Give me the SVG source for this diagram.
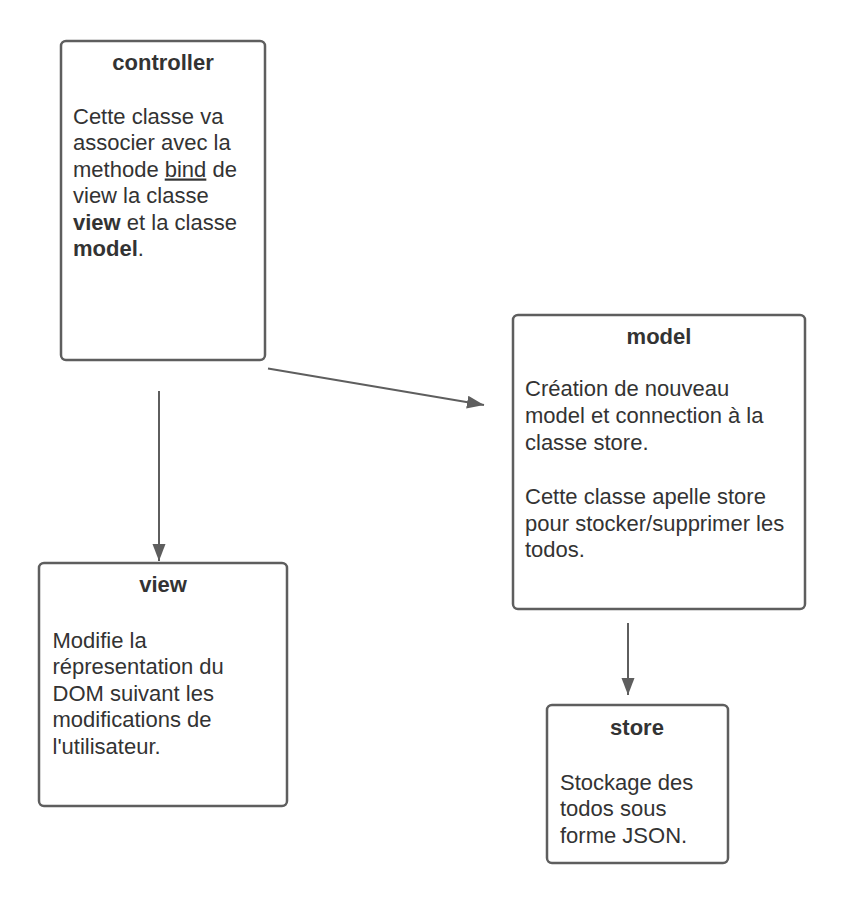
<svg xmlns="http://www.w3.org/2000/svg" width="847" height="903" viewBox="0 0 847 903">
<defs>
<style>
.box{fill:#ffffff;stroke:#5e5e5e;stroke-width:2.5}
.t{font-family:"Liberation Sans",Arial,sans-serif;font-size:22px;fill:#333333}
.h{font-weight:bold;text-anchor:middle}
.b{font-weight:bold}
.edge{stroke:#5e5e5e;stroke-width:2;fill:none}
</style>
<marker id="arr" markerWidth="18" markerHeight="14" refX="17" refY="6.5" orient="auto" markerUnits="userSpaceOnUse">
<path d="M0,0 L17,6.5 L0,13 Z" fill="#5e5e5e"/>
</marker>
</defs>
<rect width="847" height="903" fill="#ffffff"/>
<g id="controller">
<rect class="box" x="61" y="41" width="204" height="319" rx="5"/>
<text class="t h" x="163" y="70">controller</text>
<text class="t" x="73" y="123.5">Cette classe va</text>
<text class="t" x="73" y="150">associer avec la</text>
<text class="t" x="73" y="176.5">methode <tspan text-decoration="underline">bind</tspan> de</text>
<text class="t" x="73" y="203">view la classe</text>
<text class="t" x="73" y="229.5"><tspan class="b">view</tspan> et la classe</text>
<text class="t" x="73" y="256"><tspan class="b">model</tspan>.</text>
</g>
<g id="model">
<rect class="box" x="513" y="315" width="292" height="294" rx="5"/>
<text class="t h" x="659" y="344">model</text>
<text class="t" x="525" y="396">Création de nouveau</text>
<text class="t" x="525" y="423">model et connection à la</text>
<text class="t" x="525" y="450">classe store.</text>
<text class="t" x="525" y="504">Cette classe apelle store</text>
<text class="t" x="525" y="530.5">pour stocker/supprimer les</text>
<text class="t" x="525" y="557">todos.</text>
</g>
<g id="view">
<rect class="box" x="39" y="563" width="248" height="243" rx="5"/>
<text class="t h" x="163" y="592">view</text>
<text class="t" x="52.5" y="647.5">Modifie la</text>
<text class="t" x="52.5" y="674">répresentation du</text>
<text class="t" x="52.5" y="700.5">DOM suivant les</text>
<text class="t" x="52.5" y="727">modifications de</text>
<text class="t" x="52.5" y="753.5">l'utilisateur.</text>
</g>
<g id="store">
<rect class="box" x="547" y="705" width="181" height="158" rx="5"/>
<text class="t h" x="637" y="735">store</text>
<text class="t" x="560" y="789.5">Stockage des</text>
<text class="t" x="560" y="816">todos sous</text>
<text class="t" x="560" y="842.5">forme JSON.</text>
</g>
<g id="connectors">
<line class="edge" x1="159" y1="391" x2="159" y2="561" marker-end="url(#arr)"/>
<line class="edge" x1="268" y1="368.5" x2="484" y2="405" marker-end="url(#arr)"/>
<line class="edge" x1="628" y1="623" x2="628" y2="695" marker-end="url(#arr)"/>
</g>
</svg>
